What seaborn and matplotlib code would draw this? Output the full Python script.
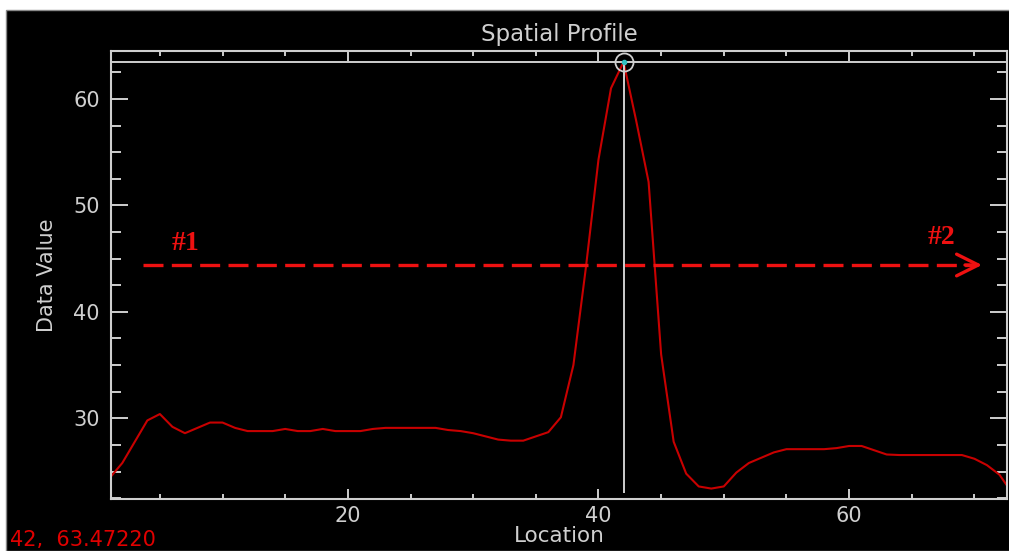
import numpy as np
import seaborn as sns
import matplotlib.pyplot as plt
from matplotlib.lines import Line2D
from matplotlib.patches import Rectangle

# profile values, one per location
location = list(range(1, 74))
data_value = [
    24.4, 25.8, 27.8, 29.8, 30.4, 29.2, 28.6, 29.1, 29.6, 29.6,
    29.1, 28.8, 28.8, 28.8, 29.0, 28.8, 28.8, 29.0, 28.8, 28.8,
    28.8, 29.0, 29.1, 29.1, 29.1, 29.1, 29.1, 28.9, 28.8, 28.6,
    28.3, 28.0, 27.9, 27.9, 28.3, 28.7, 30.1, 35.0, 44.2, 54.3,
    61.0, 63.4722, 58.0, 52.2, 36.0, 27.8, 24.8, 23.6, 23.4, 23.6,
    24.9, 25.8, 26.3, 26.8, 27.1, 27.1, 27.1, 27.1, 27.2, 27.4,
    27.4, 27.0, 26.6, 26.55, 26.55, 26.55, 26.55, 26.55, 26.55, 26.2,
    25.6, 24.7, 23.0,
]
cursor_x = 42
x_ticks = [20, 40, 60]
y_ticks = [30, 40, 50, 60]

GRAY = "#cfcfcf"
CURVE = "#c80000"
MARK = "#ee1111"

sns.set_theme(style="dark")
plt.rcParams["font.family"] = ["DejaVu Sans"]

fig = plt.figure(figsize=(10.09, 5.51), dpi=100, facecolor="white")
# black display panel (white strip left and top like the screenshot)
fig.patches.append(Rectangle((6 / 1009, 0), 1, 1 - 10 / 551, transform=fig.transFigure,
                             facecolor="black", edgecolor="#888888", lw=1, zorder=-10))

ax = fig.add_axes([111 / 1009, 52 / 551, 896 / 1009, 448 / 551])
ax.set_facecolor("black")

sns.lineplot(x=location, y=data_value, ax=ax, color=CURVE, linewidth=1.5)

# cursor: vertical line at the picked location, horizontal line at its value
vals = np.array(data_value)
peak = vals[location.index(cursor_x)]
ax.vlines(cursor_x, vals.min(), peak, color=GRAY, lw=1.4, zorder=3)
ax.axhline(peak, color=GRAY, lw=1.4, zorder=3)
ax.plot([cursor_x], [peak], marker="o", ms=13, mfc="none", mec=GRAY, mew=1.3, zorder=4, clip_on=False)
ax.plot([cursor_x], [peak], marker="o", ms=3, color="#30c0c0", zorder=5)

ax.set_xlim(1.1, 72.6)
ax.set_ylim(22.42, 64.5)
ax.set_xticks(x_ticks)
ax.set_xticks(np.arange(5, 75, 5), minor=True)
ax.set_yticks(y_ticks)
ax.set_yticks(np.arange(22.5, 65, 2.5), minor=True)

for s in ax.spines.values():
    s.set_visible(True)
    s.set_color(GRAY)
    s.set_linewidth(1.5)
ax.grid(False)

ax.tick_params(which="both", direction="in", top=True, right=True, bottom=True, left=True,
               colors=GRAY, width=1.4, labelsize=15, labelcolor=GRAY)
ax.tick_params(axis="y", which="major", length=12, pad=8)
ax.tick_params(axis="y", which="minor", length=7)
ax.tick_params(axis="x", which="major", length=7, pad=5)
ax.tick_params(axis="x", which="minor", length=3.5)

ax.set_title("Spatial Profile", color=GRAY, fontsize=16.5, pad=7)
ax.set_xlabel("Location", color=GRAY, fontsize=15.5, labelpad=0)
ax.set_ylabel("Data Value", color=GRAY, fontsize=15, labelpad=12)

fig.text(10 / 1009, 1 - 546 / 551, f"{cursor_x},  {peak:.5f}", color="#e00000",
         fontsize=15, va="baseline", ha="left")

# hand-drawn style annotation: dashed arrow from #1 to #2
y_arrow = 1 - 265 / 551
fig.lines.append(Line2D([143 / 1009, 975 / 1009], [y_arrow, y_arrow], transform=fig.transFigure,
                        color=MARK, lw=2.4, linestyle=(0, (6.0, 2.5)), zorder=5))
ax.annotate("", xy=(982 / 1009, y_arrow), xytext=(965 / 1009, y_arrow),
            xycoords="figure fraction", textcoords="figure fraction",
            arrowprops=dict(arrowstyle="->, head_length=1.3, head_width=0.65",
                            color=MARK, lw=2.4, shrinkA=0, shrinkB=0), zorder=6)
fig.text(185 / 1009, 1 - 250 / 551, "#1", color=MARK, fontsize=20, fontweight="bold",
         family=["Liberation Serif"], ha="center", va="baseline")
fig.text(942 / 1009, 1 - 244 / 551, "#2", color=MARK, fontsize=20, fontweight="bold",
         family=["Liberation Serif"], ha="center", va="baseline")

fig.savefig("out.png", dpi=100, facecolor="white")
